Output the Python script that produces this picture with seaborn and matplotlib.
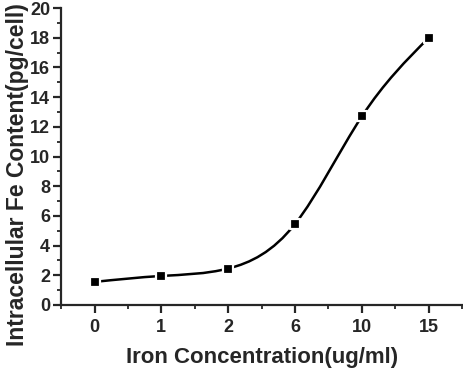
import numpy as np
import pandas as pd
import matplotlib
matplotlib.use("Agg")
import matplotlib.pyplot as plt
from matplotlib.path import Path
from matplotlib.patches import PathPatch
from matplotlib.ticker import MultipleLocator
import seaborn as sns

# Iron uptake data
concentrations = ["0", "1", "2", "6", "10", "15"]
fe_content = [1.55, 1.95, 2.45, 5.45, 12.7, 18.0]

df = pd.DataFrame({"conc": concentrations, "fe": fe_content})
df["pos"] = np.arange(len(df))

sns.set_style("ticks")
plt.rcParams["font.family"] = ["Liberation Sans", "DejaVu Sans"]
plt.rcParams["font.weight"] = "bold"

fig = plt.figure(figsize=(4.63, 3.70), dpi=100)
ax = fig.add_axes([0.132, 0.176, 0.866, 0.802])

# smooth connecting line: natural cubic spline slopes, drawn as Bezier path
x = df["pos"].to_numpy(float)
y = df["fe"].to_numpy(float)
n = len(x)
A = np.zeros((n, n))
b = np.zeros(n)
A[0, 0], A[0, 1], b[0] = 2, 1, 3 * (y[1] - y[0])
A[-1, -2], A[-1, -1], b[-1] = 1, 2, 3 * (y[-1] - y[-2])
for i in range(1, n - 1):
    A[i, i - 1], A[i, i], A[i, i + 1] = 1, 4, 1
    b[i] = 3 * (y[i + 1] - y[i - 1])
d = np.linalg.solve(A, b)
verts = [(x[0], y[0])]
codes = [Path.MOVETO]
for i in range(n - 1):
    verts += [(x[i] + 1 / 3, y[i] + d[i] / 3),
              (x[i + 1] - 1 / 3, y[i + 1] - d[i + 1] / 3),
              (x[i + 1], y[i + 1])]
    codes += [Path.CURVE4] * 3
ax.add_patch(PathPatch(Path(verts, codes), facecolor="none",
                       edgecolor="black", lw=1.8, zorder=2))

sns.scatterplot(data=df, x="pos", y="fe", marker="s", s=42, color="black",
                edgecolor="white", linewidth=1.6, ax=ax, zorder=3)

ax.set_xlim(-0.5, 5.5)
ax.set_ylim(0, 20)
ax.set_xticks(df["pos"])
ax.set_xticklabels(concentrations)
ax.xaxis.set_minor_locator(MultipleLocator(0.5))
ax.yaxis.set_major_locator(MultipleLocator(2))
ax.yaxis.set_minor_locator(MultipleLocator(1))

for s in ["left", "bottom"]:
    ax.spines[s].set_linewidth(1.6)
sns.despine(ax=ax)
ax.tick_params(which="major", length=6, width=1.6, labelsize=13)
ax.tick_params(axis="y", which="major", pad=2)
ax.tick_params(axis="x", which="major", pad=4)
ax.tick_params(which="minor", length=3, width=1.3)
for lab in ax.get_xticklabels() + ax.get_yticklabels():
    lab.set_fontweight("bold")

ax.set_xlabel("Iron Concentration(ug/ml)", fontsize=16, fontweight="bold", labelpad=8)
ax.set_ylabel("Intracellular Fe Content(pg/cell)", fontsize=16.5, fontweight="bold")
ax.yaxis.set_label_coords(-0.08, 0.438)

fig.savefig("out.png", dpi=100)
